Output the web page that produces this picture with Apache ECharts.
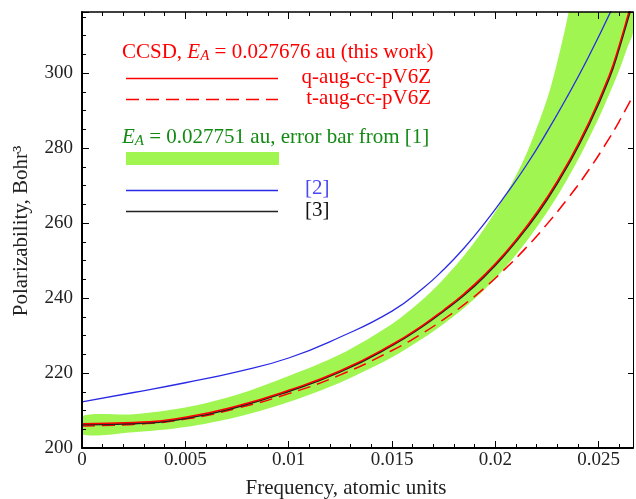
<!DOCTYPE html>
<html><head><meta charset="utf-8">
<script src="https://cdn.jsdelivr.net/npm/echarts@6/dist/echarts.min.js"></script>
<style>html,body{margin:0;padding:0;background:#fff}#c{width:636px;height:499px}</style>
</head><body><div id="c"></div>
<script>
// ---- data ----
const freqQ     = [0, 0.0025, 0.005, 0.0075, 0.01, 0.0125, 0.015, 0.0165, 0.0175, 0.0185, 0.0195, 0.0205, 0.0215, 0.0225, 0.0235, 0.0245, 0.0255, 0.026, 0.0265, 0.02666];
const alphaQ    = [206.5, 206.8, 208.2, 211.2, 215.4, 220.6, 227.6, 232.8, 236.8, 241.2, 246.3, 252.2, 259, 266.8, 275.9, 286.5, 299.2, 307.5, 317, 320];
const alphaRef3 = [206.2, 206.5, 207.9, 210.9, 215.1, 220.3, 227.3, 232.5, 236.5, 240.8, 245.9, 251.8, 258.5, 266.2, 275.3, 285.8, 298.4, 306.7, 316.0, 319];

const freqT  = [0, 0.0025, 0.005, 0.0075, 0.01, 0.0125, 0.015, 0.0165, 0.0175, 0.0185, 0.0195, 0.0205, 0.0215, 0.0225, 0.0235, 0.0245, 0.0255, 0.026, 0.02666];
const alphaT = [205.9, 206.3, 207.7, 210.6, 214.5, 219.5, 226, 230.7, 234.3, 238.3, 242.8, 247.9, 253.5, 259.7, 266.5, 274, 282.5, 287.2, 293.9];

const freqRef2  = [0, 0.0025, 0.005, 0.0075, 0.01, 0.0125, 0.015, 0.0165, 0.0175, 0.0185, 0.0195, 0.0205, 0.0215, 0.0225, 0.0235, 0.0245, 0.0256];
const alphaRef2 = [212.3, 214.8, 217.4, 220.3, 224.0, 229.6, 236.5, 242.6, 247.6, 253.4, 260.1, 267.5, 275.4, 284.3, 293.9, 304.2, 316.6];

const bandFreq = [0, 0.0025, 0.005, 0.0075, 0.01, 0.0125, 0.015, 0.0165, 0.0175, 0.0185, 0.0195, 0.0205, 0.0215, 0.0225, 0.023, 0.0235, 0.024, 0.0245, 0.025, 0.0255, 0.026, 0.0264, 0.02666];
const bandLow  = [203.7, 204.2, 205.6, 208.3, 212.3, 217.5, 224.2, 229.3, 233.1, 237.4, 242.4, 248.3, 255.1, 262.9, 267.2, 271.9, 276.9, 282.3, 288, 294.2, 300.9, 307, 311];
const bandHigh = [208.5, 209.0, 210.8, 214.2, 219.2, 225, 233.1, 239.7, 245.1, 251.4, 258.8, 267.6, 278.4, 293, 303, 315, 330, 345, 345, 345, 345, 345, 345];

const xTicks = [0, 0.005, 0.01, 0.015, 0.02, 0.025];
const yTicks = [200, 220, 240, 260, 280, 300];

// ---- chart ----
const FONT = 'Liberation Serif';
const RED = '#ff0000', GREEN_TXT = '#138a13', BAND = '#a0f550', BLUE = '#2a2ae6', BLUE_TXT = '#4a4af5', BLACK = '#222222';
const zip = (xs, ys) => xs.map((x, i) => [x, ys[i]]);
const XMAX = 0.02666, YMAX = 316.27;

function xAx(pos, interval, len, showLine, showLabel, lw) {
  return {
    type: 'value', position: pos, min: 0, max: XMAX, interval: interval, z: 5,
    axisLine: { show: showLine, onZero: false, lineStyle: { color: '#000', width: lw } },
    axisTick: { show: true, inside: true, length: len, lineStyle: { color: '#000', width: 1 } },
    axisLabel: {
      show: showLabel, margin: 3, fontFamily: FONT, fontSize: 19, color: '#222',
      formatter: v => xTicks.some(t => Math.abs(t - v) < 1e-9) ? (v === 0 ? '0' : String(+v.toFixed(3))) : ''
    },
    splitLine: { show: false }
  };
}
function yAx(pos, interval, len, showLine, showLabel, lw) {
  return {
    type: 'value', position: pos, min: 200, max: YMAX, interval: interval, z: 5,
    axisLine: { show: showLine, onZero: false, lineStyle: { color: '#000', width: lw } },
    axisTick: { show: true, inside: true, length: len, lineStyle: { color: '#000', width: 1 } },
    axisLabel: {
      show: showLabel, margin: 9, fontFamily: FONT, fontSize: 19, color: '#222',
      formatter: v => yTicks.some(t => Math.abs(t - v) < 1e-6) ? String(Math.round(v)) : ''
    },
    splitLine: { show: false }
  };
}

const subRich = (fill) => ({
  i: { fontStyle: 'italic', fontSize: 21, fontFamily: FONT, fill: fill, lineHeight: 24 },
  s: { fontStyle: 'italic', fontSize: 15, fontFamily: FONT, fill: fill, lineHeight: 12, verticalAlign: 'bottom' }
});
function txt(x, y, text, fill, align, rich) {
  return {
    type: 'text', x: x, y: y, z: 100,
    style: { text: text, fill: fill, font: '21px "' + FONT + '"', fontSize: 21, fontFamily: FONT, lineHeight: 24,
      align: align, textAlign: align, verticalAlign: 'middle', textVerticalAlign: 'middle', rich: rich }
  };
}
function seg(y, color, width, dash) {
  return { type: 'line', z: 100, shape: { x1: 126, y1: y, x2: 278, y2: y },
    style: { stroke: color, lineWidth: width, lineDash: dash || null } };
}

const SM = 0.5;
const chart = echarts.init(document.getElementById('c'), null, { renderer: 'canvas' });
chart.setOption({
  animation: false,
  backgroundColor: '#fff',
  grid: { left: 82, right: 1, top: 12, bottom: 51, containLabel: false },
  xAxis: [
    xAx('bottom', 0.005, 7, true, true, 2),
    xAx('bottom', 0.001, 4, false, false, 1),
    xAx('top', 0.005, 7, true, false, 1.5),
    xAx('top', 0.001, 4, false, false, 1)
  ],
  yAxis: [
    yAx('left', 20, 7, true, true, 2),
    yAx('left', 5, 4, false, false, 1),
    yAx('right', 20, 5, true, false, 1)
  ],
  series: [
    { name: 'error band [1]', type: 'custom', coordinateSystem: 'cartesian2d', clip: true, silent: true, z: 1,
      data: [[0, 210]],
      renderItem: function (params, api) {
        const pts = [];
        for (let i = 0; i < bandFreq.length; i++) pts.push(api.coord([bandFreq[i], bandHigh[i]]));
        for (let i = bandFreq.length - 1; i >= 0; i--) pts.push(api.coord([bandFreq[i], bandLow[i]]));
        return { type: 'polygon', shape: { points: pts, smooth: 0.3 }, style: { fill: BAND, stroke: null } };
      }
    },
    { name: '[2]', type: 'line', data: zip(freqRef2, alphaRef2), symbol: 'none', smooth: SM,
      lineStyle: { color: BLUE, width: 1.3 }, z: 2 },
    { name: 't-aug-cc-pV6Z', type: 'line', data: zip(freqT, alphaT), symbol: 'none', smooth: SM,
      lineStyle: { color: RED, width: 1.5, type: [13, 7] }, z: 2 },
    { name: '[3]', type: 'line', data: zip(freqQ, alphaRef3), symbol: 'none', smooth: SM,
      lineStyle: { color: BLACK, width: 1.6 }, z: 2 },
    { name: 'q-aug-cc-pV6Z', type: 'line', data: zip(freqQ, alphaQ), symbol: 'none', smooth: SM,
      lineStyle: { color: RED, width: 1.5 }, z: 3 }
  ],
  graphic: [
    txt(122, 52, 'CCSD, {i|E}{s|A} = 0.027676 au (this work)', RED, 'left', subRich(RED)),
    seg(78.5, RED, 1.5),
    txt(431, 77, 'q-aug-cc-pV6Z', RED, 'right'),
    seg(99.5, RED, 1.5, [13, 7]),
    txt(431, 98, 't-aug-cc-pV6Z', RED, 'right'),
    txt(122, 137, '{i|E}{s|A} = 0.027751 au, error bar from [1]', GREEN_TXT, 'left', subRich(GREEN_TXT)),
    { type: 'rect', z: 100, shape: { x: 126, y: 152, width: 153, height: 13 }, style: { fill: BAND } },
    seg(190.5, BLUE, 1.3),
    txt(305, 188, '[2]', BLUE_TXT, 'left'),
    seg(211.5, BLACK, 1.3),
    txt(305, 210, '[3]', '#111', 'left'),
    txt(346, 488, 'Frequency, atomic units', '#222', 'center'),
    Object.assign(txt(21, 231, 'Polarizability, Bohr\u00B3', '#222', 'center'), { rotation: Math.PI / 2 })
  ]
});
</script>
</body></html>
